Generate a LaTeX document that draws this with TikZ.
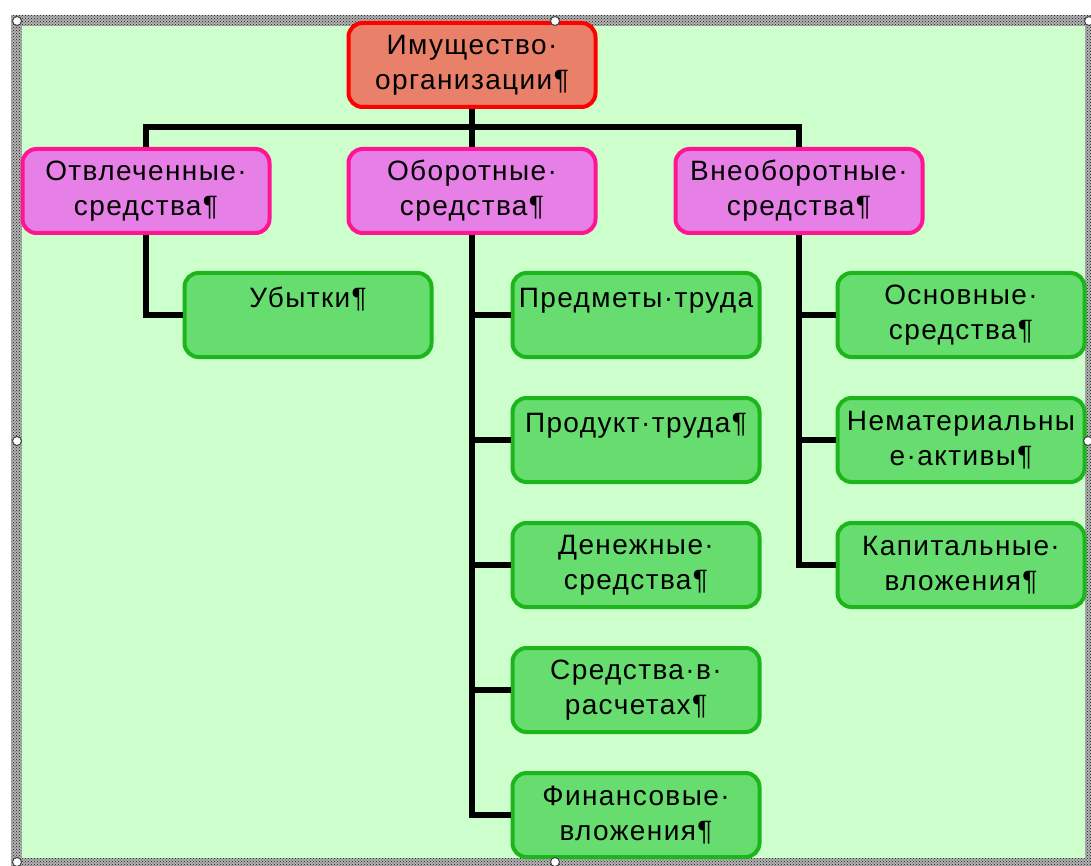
\documentclass[tikz,border=0pt]{standalone}
\usepackage{fontspec}
\setmainfont{Liberation Sans}[LetterSpace=5]
\usetikzlibrary{patterns}

\definecolor{bggreen}{HTML}{CCFFCC}
\definecolor{rootfill}{HTML}{E8806A}
\definecolor{rootline}{HTML}{FF0000}
\definecolor{midfill}{HTML}{E67FE6}
\definecolor{midline}{HTML}{FF1493}
\definecolor{leaffill}{HTML}{66DD6E}
\definecolor{leafline}{HTML}{1CB51C}

\begin{document}
\begin{tikzpicture}[x=1pt,y=-1pt,
  box/.style={draw, line width=4pt, rounded corners=14pt,
    minimum width=247pt, minimum height=84pt, inner sep=2pt,
    align=center, font=\fontsize{28}{35}\selectfont},
  rootbox/.style={box, draw=rootline, fill=rootfill},
  midbox/.style={box, draw=midline, fill=midfill},
  leafbox/.style={box, draw=leafline, fill=leaffill},
  link/.style={line width=6pt, black},
  handle/.style={draw=black!75, fill=white, line width=1pt}]
\useasboundingbox (0,0) rectangle (1091,866);

% frame
\fill[white] (0,0) rectangle (1091,866);
\fill[black!30] (11,15) rectangle (1096,870);
\fill[pattern=crosshatch dots, pattern color=black!90] (11,15) rectangle (1096,870);
\fill[bggreen] (22,26) rectangle (1085,858);

% boxes
\node[rootbox] (root) at (472,65) {Имущество·\\организации¶};

\node[midbox] (otv) at (146,191) {Отвлеченные·\\средства¶};
\node[midbox] (obo) at (472,191) {Оборотные·\\средства¶};
\node[midbox] (vne) at (799,191) {Внеоборотные·\\средства¶};

\node[leafbox] (ub) at (308,315) {Убытки¶\\\phantom{Х}};

\node[leafbox] (pt)  at (636,315) {Предметы·труда\\\phantom{Х}};
\node[leafbox] (prt) at (636,440) {Продукт·труда¶\\\phantom{Х}};
\node[leafbox] (den) at (636,565) {Денежные·\\средства¶};
\node[leafbox] (ras) at (636,690) {Средства·в·\\расчетах¶};
\node[leafbox] (fin) at (636,815) {Финансовые·\\вложения¶};

\node[leafbox] (osn) at (961,315) {Основные·\\средства¶};
\node[leafbox] (nem) at (961,440) {Нематериальны\\е·активы¶};
\node[leafbox] (kap) at (961,565) {Капитальные·\\вложения¶};

% connectors
\coordinate (bus) at (472,127);
\draw[link] (root.south) -- (bus);
\draw[link] (otv.north) |- (bus) -| (vne.north);
\draw[link] (bus) -- (obo.north);
\draw[link] (otv.south) |- (ub.west);
\foreach \n in {pt,prt,den,ras,fin} {
    \draw[link] (obo.south) |- (\n.west);
}
\foreach \n in {osn,nem,kap} {
    \draw[link] (vne.south) |- (\n.west);
}

% handles
\foreach \p in {(17,21),(555,21),(1089,21),(17,441),(1088,441),(17,862),(555,862)} {
    \filldraw[handle] \p circle (4.5pt);
}
\end{tikzpicture}
\end{document}
